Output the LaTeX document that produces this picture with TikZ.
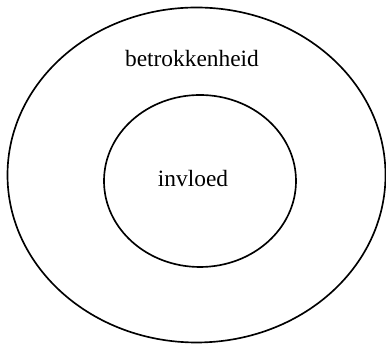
\documentclass[tikz,border=0pt]{standalone}
\usepackage{fontspec}
\setmainfont{Liberation Serif}
\usetikzlibrary{positioning}

\begin{document}
\begin{tikzpicture}[
    x=0.513pt, y=-0.513pt,
    every node/.style={font=\fontsize{12}{14}\selectfont},
    lab/.style={anchor=base, inner sep=0pt, text=black},
    ring/.style={draw=black, line width=0.85pt},
]
\useasboundingbox (0,0) rectangle (386,345);

% outer and inner ring
\draw[ring] (196.5,175) ellipse [x radius=189, y radius=167.5];
\draw[ring] (200,181) ellipse [x radius=96, y radius=86];

\node[lab] (betrokken) at (192,67) {betrokkenheid};
\node[lab] (invloed) at (193,187) {invloed};
\end{tikzpicture}
\end{document}
